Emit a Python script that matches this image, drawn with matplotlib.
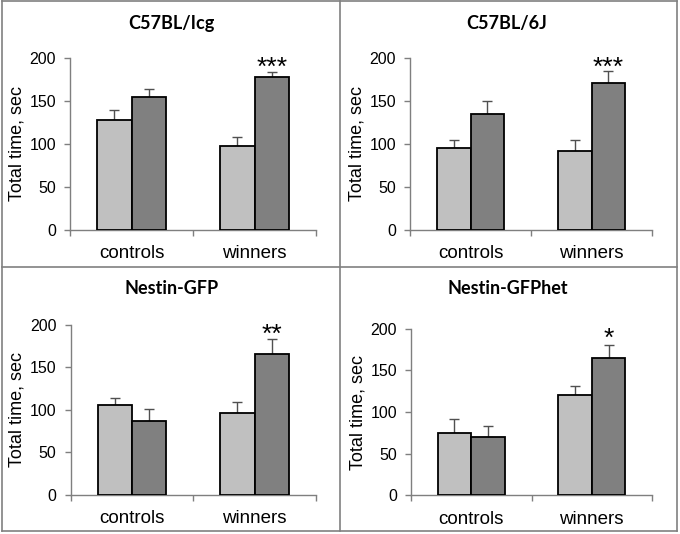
import numpy as np
import matplotlib
matplotlib.use('Agg')
import matplotlib.pyplot as plt
from matplotlib.lines import Line2D


groups = ['controls', 'winners']
titles = ['C57BL/Icg', 'C57BL/6J', 'Nestin-GFP', 'Nestin-GFPhet']

# light bars / dark bars, one row per panel
light_vals = [[128, 97], [95, 92], [106, 96], [75, 120]]
dark_vals = [[154, 178], [135, 171], [87, 166], [70, 165]]
light_err = [[11.5, 11], [9, 13], [8.5, 13.5], [16, 11.5]]
dark_err = [[10, 5.5], [15, 13], [14.5, 17], [13, 15.5]]
stars = ['***', '***', '**', '*']

W, H = 680, 534
# axes boxes in pixels: left, top, right, bottom
boxes = [(70, 57.7, 316, 230),
         (410, 57.7, 652, 230),
         (70.5, 324.7, 316, 495),
         (411, 328.7, 652, 495.3)]
title_pos = [(171, 23), (507, 23), (172, 289), (508, 289)]

light_c = '#c0c0c0'
dark_c = '#808080'
axis_c = '#7f7f7f'
w = 0.28

fig = plt.figure(figsize=(W / 100, H / 100), dpi=100)

for i in range(4):
    l, t, r, b = boxes[i]
    ax = fig.add_axes([l / W, 1 - b / H, (r - l) / W, (b - t) / H])
    x = np.arange(len(groups))
    ax.bar(x - w / 2, light_vals[i], w, color=light_c, edgecolor='black',
           linewidth=1.3, zorder=3)
    ax.bar(x + w / 2, dark_vals[i], w, color=dark_c, edgecolor='black',
           linewidth=1.3, zorder=3)
    ax.errorbar(x - w / 2, light_vals[i], yerr=[[0, 0], light_err[i]],
                fmt='none', ecolor='#505050', elinewidth=1, capsize=3.3,
                capthick=1, zorder=2)
    ax.errorbar(x + w / 2, dark_vals[i], yerr=[[0, 0], dark_err[i]],
                fmt='none', ecolor='#505050', elinewidth=1, capsize=3.3,
                capthick=1, zorder=2)
    ax.text(1 + w / 2, 180, stars[i], ha='center', va='baseline',
            fontsize=19, family='Liberation Sans')

    ax.set_xlim(-0.5, 1.5)
    ax.set_ylim(0, 200)
    ax.set_yticks([0, 50, 100, 150, 200])
    ax.set_xticks(x)
    ax.set_xticklabels(groups, fontsize=13.5, family='Liberation Sans')
    ax.set_xticks([-0.5, 0.5, 1.5], minor=True)
    ax.tick_params(axis='x', which='major', length=0, pad=11)
    ax.tick_params(axis='x', which='minor', length=4, width=1,
                   color=axis_c, direction='out')
    ax.tick_params(axis='y', length=4, width=1, color=axis_c, pad=6,
                   labelsize=11.5)
    for lab in ax.get_yticklabels():
        lab.set_family('Liberation Sans')
    ax.set_ylabel('Total time, sec', fontsize=13, family='Liberation Sans',
                  labelpad=3)
    for s in ['top', 'right']:
        ax.spines[s].set_visible(False)
    for s in ['left', 'bottom']:
        ax.spines[s].set_color(axis_c)
        ax.spines[s].set_linewidth(1)
    ax.patch.set_alpha(0)

    tx, ty = title_pos[i]
    fig.text(tx / W, 1 - ty / H, titles[i], ha='center', va='center',
             fontsize=13, fontweight='bold', family='Lato')

# table-like frame around the four panels
frame_c = '#808080'
lines = [((1.5, 677), (0.5, 0.5)), ((1.5, 677), (531, 531)),
         ((1.5, 1.5), (0.5, 531)), ((677, 677), (0.5, 531)),
         ((340, 340), (0.5, 531)), ((1.5, 677), (266.5, 266.5))]
for xs, ys in lines:
    fig.add_artist(Line2D([v / W for v in xs], [1 - v / H for v in ys],
                          color=frame_c, linewidth=1.2))

fig.savefig('out.png', dpi=100)
